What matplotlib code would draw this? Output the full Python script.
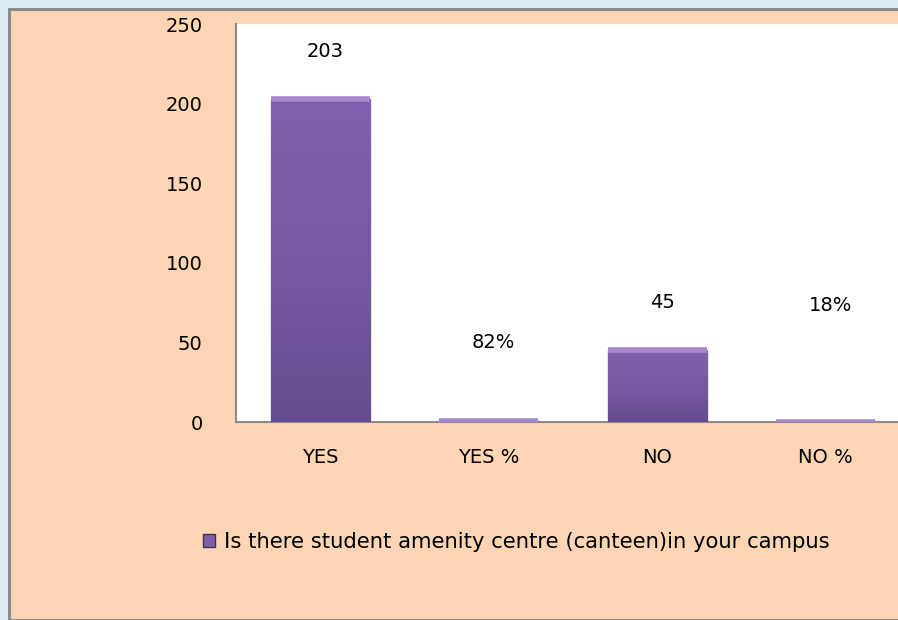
import numpy as np
import matplotlib
matplotlib.use("Agg")
import matplotlib.pyplot as plt
from matplotlib.patches import Rectangle
from matplotlib.colors import LinearSegmentedColormap

categories = ["YES", "YES %", "NO", "NO %"]
values = [203, 0.82, 45, 0.18]
value_labels = ["203", "82%", "45", "18%"]
label_heights = [233, 50, 75, 73]  # where the data labels sit (data units)
legend_label = "Is there student amenity centre (canteen)in your campus"

plt.rcParams["font.family"] = ["DejaVu Sans"]

fig = plt.figure(figsize=(8.98, 6.2), dpi=100)
fig.patch.set_facecolor("#DBEEF4")

# orange chart panel with grey border
fig.patches.append(Rectangle((9 / 898, 0), 1.0, 1 - 8.5 / 620, transform=fig.transFigure,
                             facecolor="#FCD5B5", edgecolor="#8C8C8C", linewidth=2.2, zorder=-5))

ax = fig.add_axes([236 / 898, 198 / 620, 674 / 898, 398 / 620])
ax.set_facecolor("white")

x = np.arange(len(categories))
bars = ax.bar(x, values, width=0.59, color="#7F60A8", edgecolor="#3F3151", linewidth=0.9, zorder=3)

# vertical gradient inside each bar for the bevel look
cmap = LinearSegmentedColormap.from_list("purp", ["#654C90", "#7659A2", "#8262AE"])
grad = np.linspace(0, 1, 256).reshape(-1, 1)
for b in bars:
    x0, y0, w, h = b.get_x(), b.get_y(), b.get_width(), b.get_height()
    im = ax.imshow(grad, extent=(x0, x0 + w, y0, y0 + h), origin="lower", cmap=cmap,
                   aspect="auto", zorder=3.5)
    im.set_clip_path(b)
    # light top bevel
    ax.plot([x0, x0 + w], [y0 + h, y0 + h], color="#A889D0", linewidth=4, zorder=4,
            solid_capstyle="butt")

for xi, lab, ly in zip(x, value_labels, label_heights):
    ax.text(xi + 0.03, ly, lab, ha="center", va="center", fontsize=14, color="black")

ax.set_xlim(-0.5, 3.5)
ax.set_ylim(0, 250)
ax.set_yticks([0, 50, 100, 150, 200, 250])
ax.set_xticks(x)
ax.set_xticklabels(categories)
ax.tick_params(axis="both", length=0, labelsize=14, colors="black")
ax.tick_params(axis="y", pad=24)
ax.tick_params(axis="x", pad=19)
for s in ["top", "right"]:
    ax.spines[s].set_visible(False)
for s in ["left", "bottom"]:
    ax.spines[s].set_color("#8C8C8C")
    ax.spines[s].set_linewidth(1.5)

fig.legend([Rectangle((0, 0), 1, 1, facecolor="#7F60A8", edgecolor="#3F3151")], [legend_label],
           loc="center", bbox_to_anchor=(516 / 898, 1 - 542 / 620), frameon=False,
           fontsize=15.2, handlelength=0.6, handleheight=0.6, handletextpad=0.4)

fig.savefig("out.png", dpi=100, facecolor=fig.get_facecolor())
